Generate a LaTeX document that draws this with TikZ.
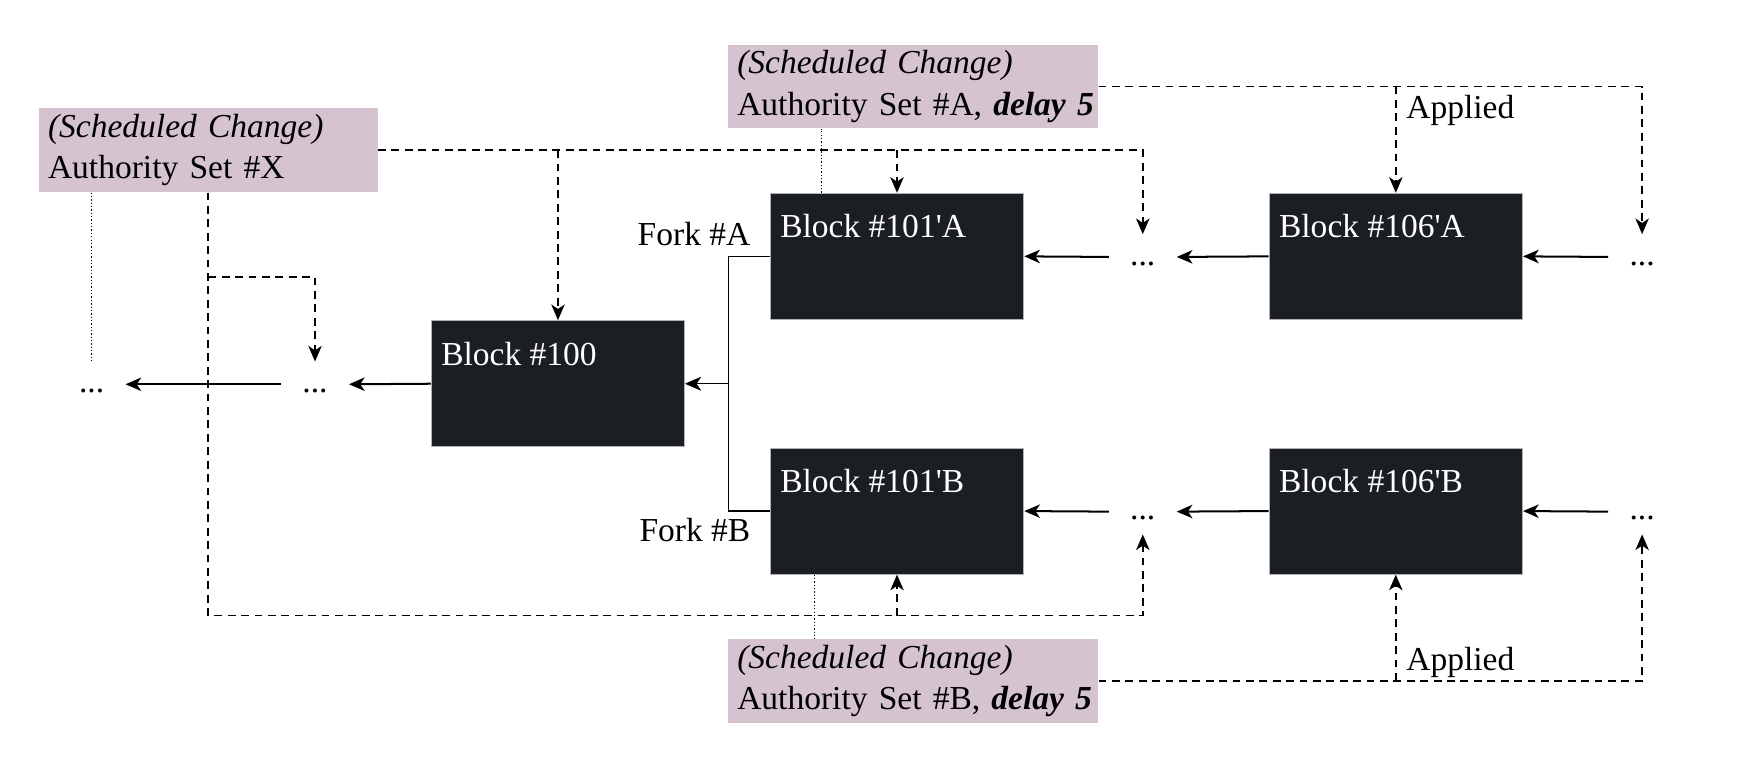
\documentclass[tikz,border=0pt]{standalone}
\usepackage{fontspec}
\setmainfont{Liberation Serif}[Ligatures=TeXOff]
\usetikzlibrary{arrows.meta}

\definecolor{changebg}{HTML}{D5C4D0}
\definecolor{blockbg}{HTML}{1B1E23}

\begin{document}
\begin{tikzpicture}[x=0.5pt, y=-0.5pt, font=\fontsize{15}{18.5}\selectfont,
	>={Stealth[length=7pt, width=6pt, inset=2pt]},
	change/.style={fill=changebg, minimum height=37.5pt, inner xsep=4pt, inner ysep=0pt, align=left},
	block/.style={fill=blockbg, draw=gray!60, line width=0.4pt, minimum width=113.5pt, minimum height=56.5pt, inner sep=0pt},
	blocktext/.style={anchor=north west, text=white, inner xsep=4.5pt, inner ysep=9.5pt},
	more/.style={minimum width=30pt, minimum height=20pt, inner sep=0pt},
	link/.style={line width=0.9pt, ->},
	sched/.style={line width=0.8pt, dash pattern=on 3.5pt off 2.5pt, ->},
	trace/.style={line width=0.5pt, dash pattern=on 0.6pt off 0.9pt},
	fork/.style={line width=0.6pt}]
	\useasboundingbox (0,0) rectangle (1563,686);

	\node [change, text width=143.5pt] (schedX) at (186.5,134.5) {\textit{(Scheduled Change)}\\Authority Set \#X};
	\node [change, text width=157.5pt] (schedA) at (817.5,77.5) {\textit{(Scheduled Change)}\\\mbox{Authority Set \#A, \textbf{\textit{delay 5}}}};
	\node [change, text width=157.5pt] (schedB) at (817.5,609.5) {\textit{(Scheduled Change)}\\\mbox{Authority Set \#B, \textbf{\textit{delay 5}}}};

	\node [block, label={[blocktext]north west:Block \#100}] (b100) at (499.5,343.5) {};
	\node [block, label={[blocktext]north west:Block \#101'A}] (b101a) at (803,229.5) {};
	\node [block, label={[blocktext]north west:Block \#106'A}] (b106a) at (1249.5,229.5) {};
	\node [block, label={[blocktext]north west:Block \#101'B}] (b101b) at (803,457.5) {};
	\node [block, label={[blocktext]north west:Block \#106'B}] (b106b) at (1249.5,457.5) {};

	\node [more] (dL) at (82,344) {\strut...};
	\node [more] (d0) at (282,344) {\strut...};
	\node [more] (dA1) at (1023,230) {\strut...};
	\node [more] (dA2) at (1470,230) {\strut...};
	\node [more] (dB1) at (1023,458) {\strut...};
	\node [more] (dB2) at (1470,458) {\strut...};

	\draw [link] (b100.west) -- (d0.east);
	\draw [link] (d0.west) -- (dL.east);
	\draw [link] (dA1.west) -- (b101a.east);
	\draw [link] (b106a.west) -- (dA1.east);
	\draw [link] (dA2.west) -- (b106a.east);
	\draw [link] (dB1.west) -- (b101b.east);
	\draw [link] (b106b.west) -- (dB1.east);
	\draw [link] (dB2.west) -- (b106b.east);

	\draw [link, fork] (b101a.west) -- ++(-37,0) |- (b100.east);
	\draw [link, fork] (b101b.west) -- ++(-37,0) |- (b100.east);
	\node [anchor=base east, inner sep=0pt] (forkA) at ([shift={(-8.5pt,5pt)}]b101a.west) {Fork \#A};
	\node [anchor=base east, inner sep=0pt] (forkB) at ([shift={(-8.5pt,-13.5pt)}]b101b.west) {Fork \#B};

	\coordinate (lowX) at (186.5,551);
	\coordinate (midX) at (186.5,248);
	\draw [sched] (schedX.east) -| (dA1.north);
	\draw [sched] (schedX.east -| b100.north) -- (b100.north);
	\draw [sched] (schedX.east -| b101a.north) -- (b101a.north);
	\draw [sched] (schedX.south) -- (lowX) -| (dB1.south);
	\draw [sched] (lowX -| b101b.south) -- (b101b.south);
	\draw [sched] (midX) -| (d0.north);

	\coordinate (jA) at (schedA.east -| b106a.north);
	\coordinate (jB) at (schedB.east -| b106b.south);
	\draw [sched] (schedA.east) -| (dA2.north);
	\draw [sched] (jA) -- (b106a.north);
	\draw [sched] (schedB.east) -| (dB2.south);
	\draw [sched] (jB) -- (b106b.south);
	\node [anchor=base west, inner sep=0pt] (appliedA) at ([shift={(4.5pt,-14.5pt)}]jA) {Applied};
	\node [anchor=base west, inner sep=0pt] (appliedB) at ([shift={(4.5pt,4.5pt)}]jB) {Applied};

	\coordinate (tA) at ([xshift=23pt]b101a.north west);
	\coordinate (tB) at ([xshift=20pt]b101b.south west);
	\draw [trace] (schedX.south -| dL.north) -- (dL.north);
	\draw [trace] (tA) -- (tA |- schedA.south);
	\draw [trace] (tB) -- (tB |- schedB.north);
\end{tikzpicture}
\end{document}
